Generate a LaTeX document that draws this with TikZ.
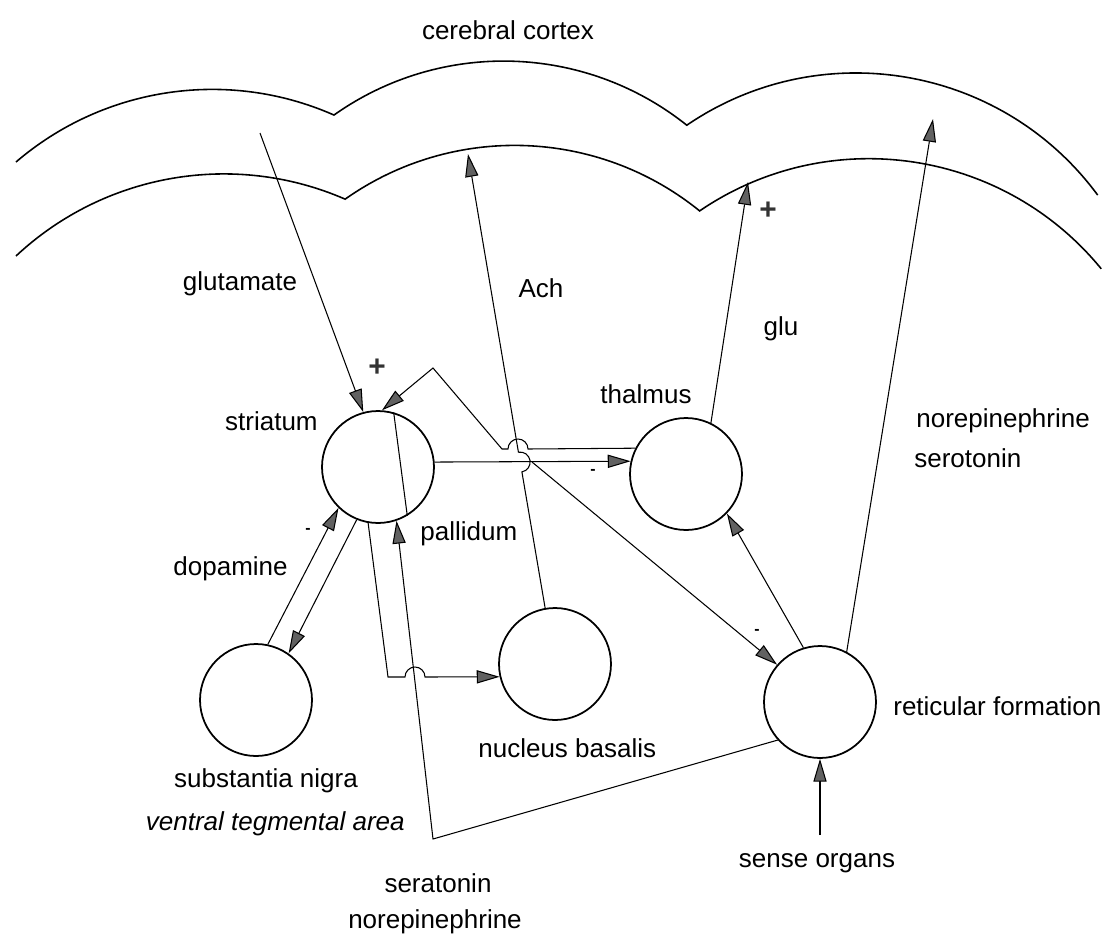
\documentclass[tikz,border=0pt]{standalone}
\usepackage{fontspec}
\setmainfont{Liberation Sans}
\usetikzlibrary{arrows.meta}

\tikzset{
  nucleus/.style={circle,draw,line width=1pt,minimum size=2.24cm,inner sep=0pt},
  lbl/.style={font=\fontsize{14.8}{17}\selectfont,inner sep=0pt},
  sign/.style={font=\bfseries\fontsize{17}{17}\selectfont,inner sep=0pt,text=black!80},
  tick/.style={font=\bfseries\fontsize{9}{9}\selectfont,inner sep=0pt},
  conn/.style={line width=0.6pt},
  tip/.style={-{Triangle[length=13pt,width=7.5pt,fill=black!62]}},
  cortex/.style={line width=0.9pt}
}

\begin{document}
\begin{tikzpicture}[x=0.02cm,y=-0.02cm]
  \useasboundingbox (0,0) rectangle (1103,937);

% cerebral cortex
  \draw[cortex] (16,162) arc[start angle=-130.6,end angle=-66.2,radius=301.6]
                         arc[start angle=-125.3,end angle=-51.4,radius=293.6]
                         arc[start angle=-124.3,end angle=-36.4,radius=300.3];
  \draw[cortex] (16,256) arc[start angle=-133.1,end angle=-66.5,radius=304.2]
                         arc[start angle=-125.2,end angle=-51.0,radius=294]
                         arc[start angle=-124.3,end angle=-39.3,radius=300.3];
  \node[lbl,anchor=base] (cortexlbl) at (508,39) {cerebral cortex};

% nuclei
  \node[nucleus] (striatum) at (378,467) {};
  \node[nucleus] (thalamus) at (686,474) {};
  \node[nucleus] (nigra) at (256,700) {};
  \node[nucleus] (basalis) at (555,664) {};
  \node[nucleus] (reticular) at (820,702) {};
  \draw[conn] (striatum.74) -- (striatum.-59);   % pallidum

% free ends and corners
  \coordinate (glusrc) at (260,133);
  \coordinate (achend) at (468,154);
  \coordinate (gluend) at (748,182);
  \coordinate (neend) at (933,119);
  \coordinate (sense) at (820,835);
  \coordinate (serbottom) at (433,839);
  \coordinate (fbapex) at (433,368);
  \coordinate (fbcorner) at (502,449);
  \coordinate (fbhop) at (528,449);
  \coordinate (achhop) at (521.9,471.9);
  \coordinate (junction) at (532,462);
  \coordinate (nbcorner) at (388,677);
  \coordinate (nbhop) at (405,677);

% pathways
  \draw[conn,tip] (glusrc) -- (striatum.105);
  \draw[conn,tip] (thalamus.153) -- (fbhop) arc[start angle=0,end angle=-180,radius=10] -- (fbcorner) -- (fbapex) -- (striatum.86);
  \draw[conn,tip] (striatum.5) -- (thalamus.167);
  \draw[conn,tip] (junction) -- (reticular.139);
  \draw[conn,tip] (basalis.100) -- (achhop) arc[start angle=80,end angle=-100,radius=10] -- (achend);
  \draw[conn,tip] (nigra.78) -- (striatum.226);
  \draw[conn,tip] (striatum.248) -- (nigra.55);
  \draw[conn,tip] (striatum.260) -- (nbcorner) -- (nbhop) arc[start angle=180,end angle=360,radius=10] -- (basalis.193);
  \draw[conn,tip] (reticular.222) -- (serbottom) -- (striatum.289);
  \draw[conn,tip] (reticular.107) -- (thalamus.-44);
  \draw[conn,tip] (reticular.62) -- (neend);
  \draw[conn,tip] (thalamus.64) -- (gluend);
  \draw[conn,tip] (sense) -- (reticular.south);

% signs
  \node[sign] (plusstr) at (377,368) {+};
  \node[sign] (plusglu) at (768,211) {+};
  \node[tick] (minusdop) at (308,531) {-};
  \node[tick] (minusthal) at (593,472) {-};
  \node[tick] (minusret) at (757,632) {-};

% labels
  \node[lbl,anchor=base] (glutamatelbl) at (240,290) {glutamate};
  \node[lbl,anchor=base] (achlbl) at (541,297) {Ach};
  \node[lbl,anchor=base] (glulbl) at (781,335) {glu};
  \node[lbl,anchor=base] (thalamuslbl) at (646,403) {thalmus};
  \node[lbl,anchor=base east] (striatumlbl) at (318,430) {striatum};
  \node[lbl,anchor=base west] (pallidumlbl) at (420,540) {pallidum};
  \node[lbl,anchor=base east] (dopaminelbl) at (288,575) {dopamine};
  \node[lbl,anchor=base west] (nelbl) at (916,427) {norepinephrine};
  \node[lbl,anchor=base west] (serlbl) at (914,467) {serotonin};
  \node[lbl,anchor=base] (nigralbl) at (266,787) {substantia nigra};
  \node[lbl,anchor=base east,font=\fontsize{14.8}{17}\selectfont\itshape] (vtalbl) at (405,830) {ventral tegmental area};
  \node[lbl,anchor=base west] (basalislbl) at (478,757) {nucleus basalis};
  \node[lbl,anchor=base west] (reticularlbl) at (893,715) {reticular formation};
  \node[lbl,anchor=base] (senselbl) at (817,867) {sense organs};
  \node[lbl,anchor=base] (seratoninlbl) at (438,892) {seratonin};
  \node[lbl,anchor=base] (norepilbl) at (435,928) {norepinephrine};

\end{tikzpicture}
\end{document}
